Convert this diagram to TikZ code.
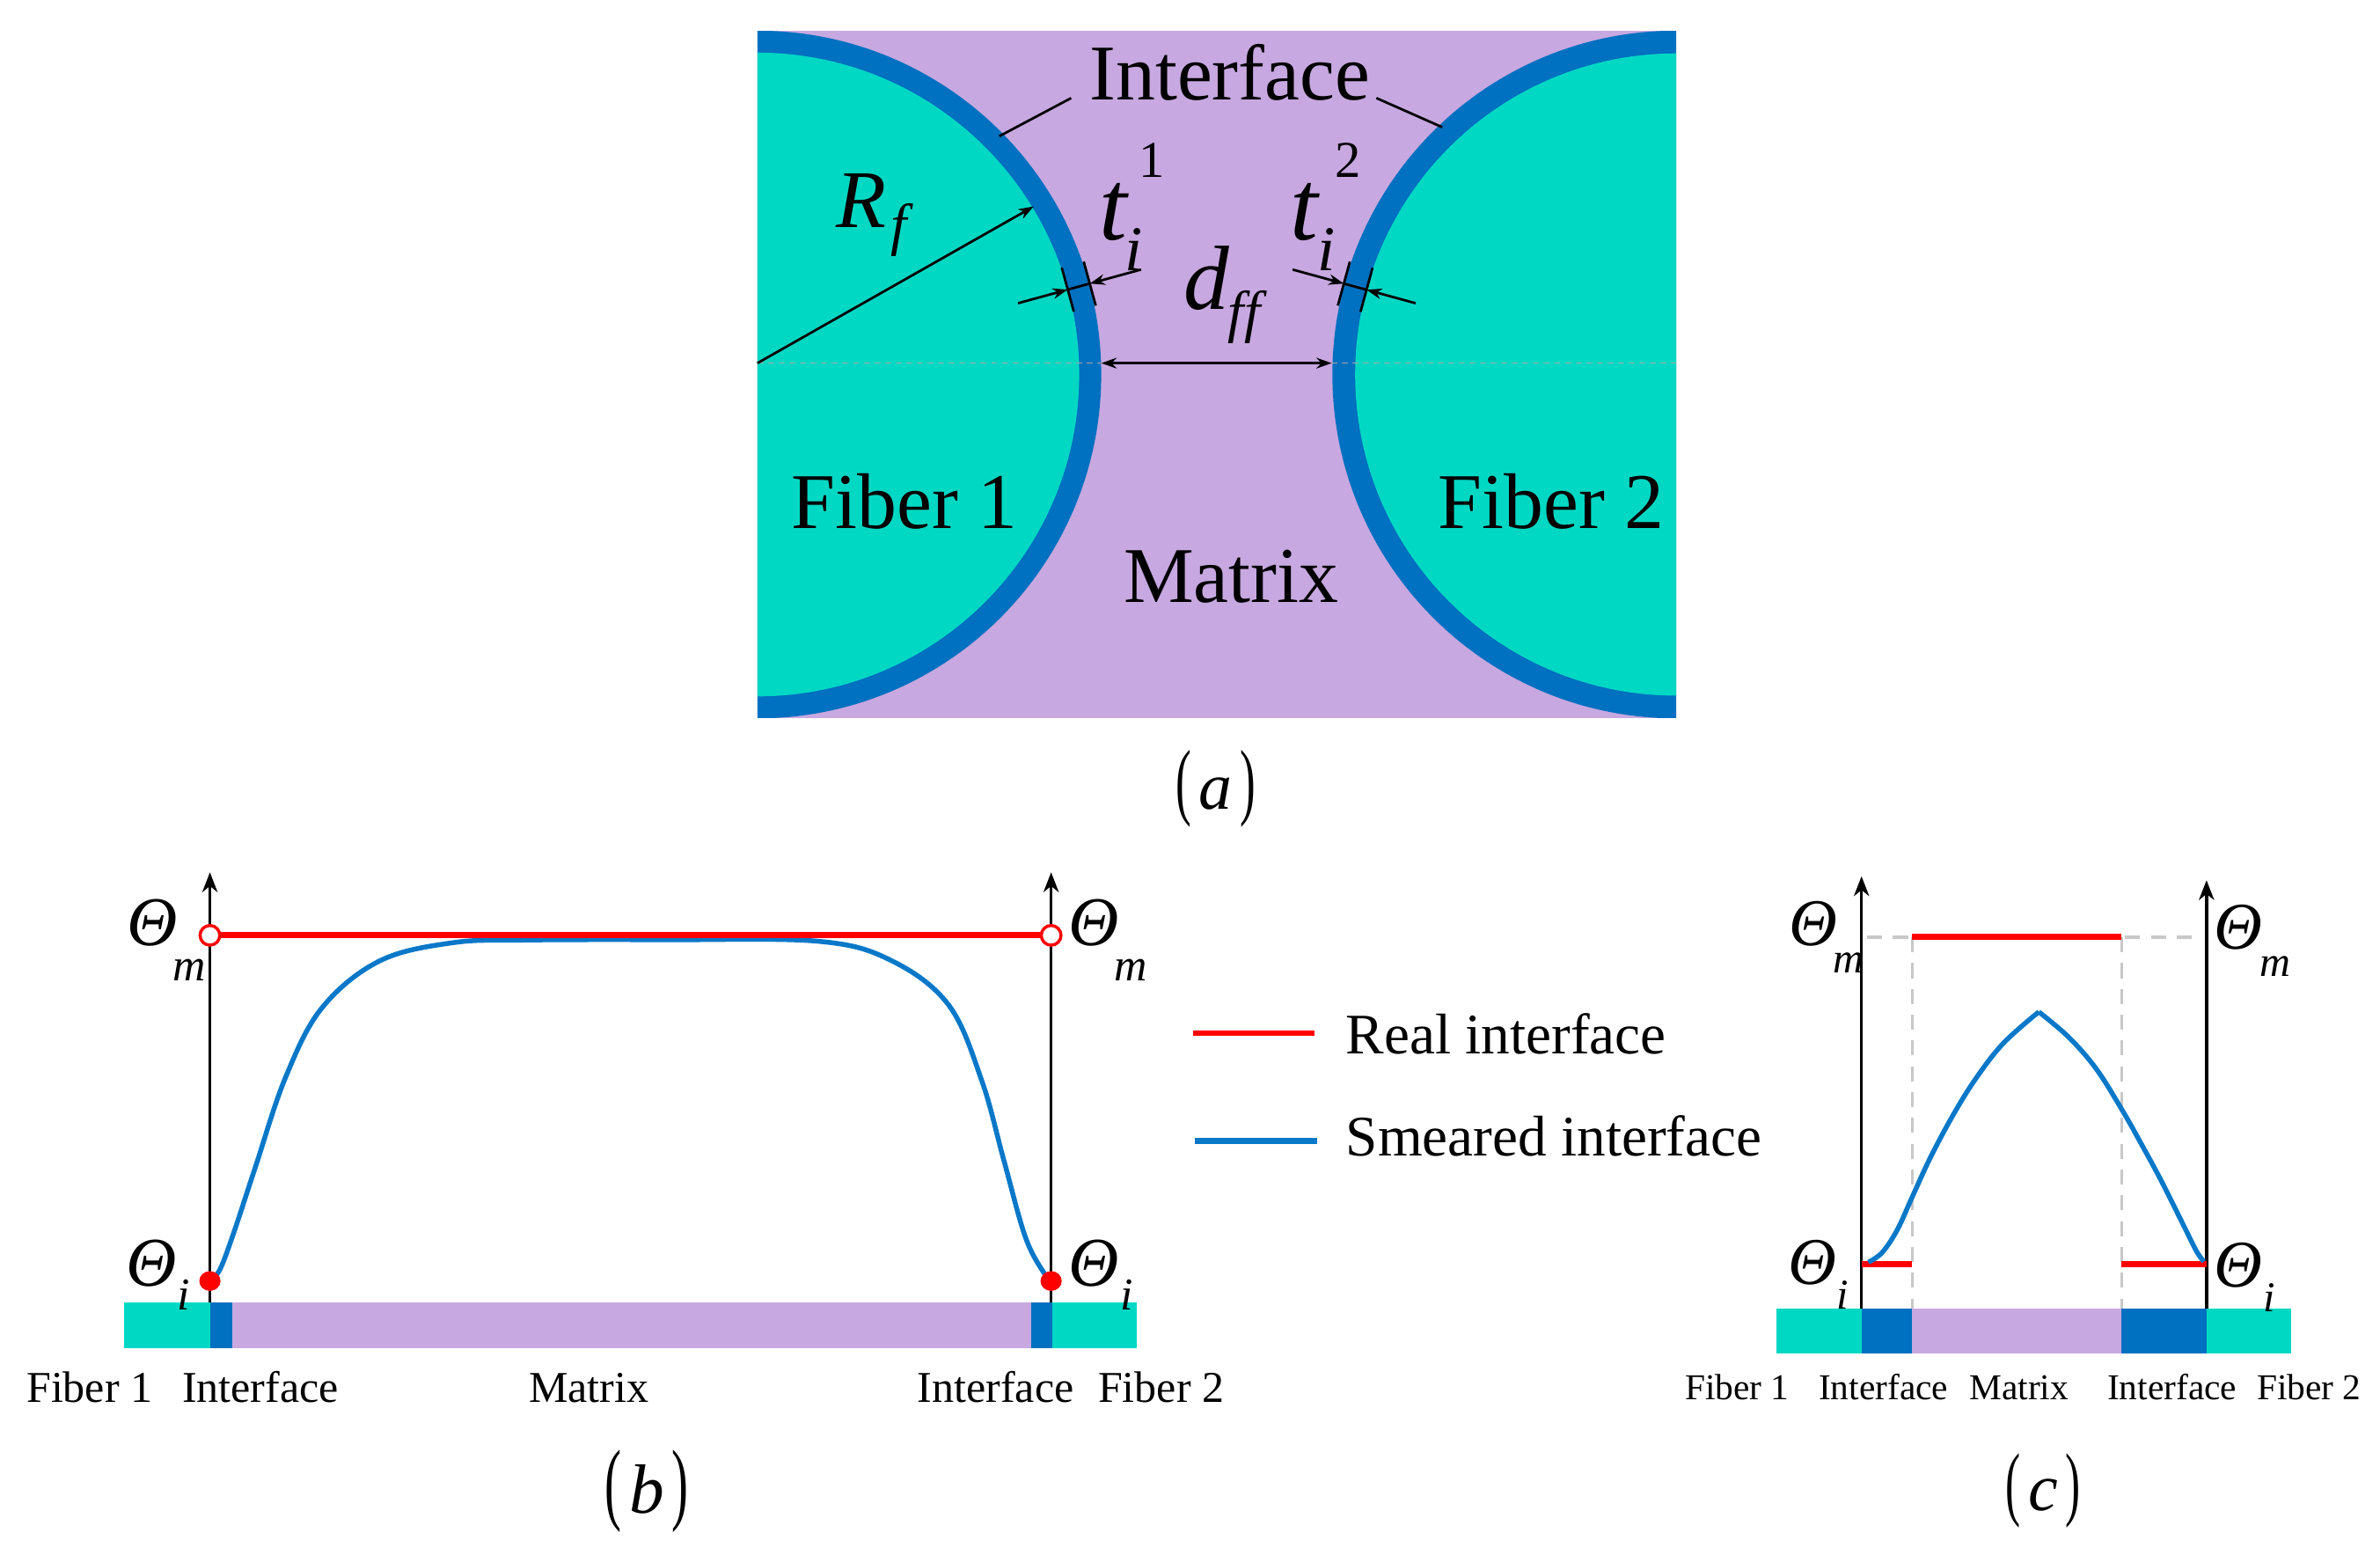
\documentclass[tikz,border=0pt]{standalone}
\usepackage{fontspec}
\setmainfont{Liberation Serif}
\usepackage{graphicx}
\usetikzlibrary{arrows.meta,calc}
\definecolor{fib}{HTML}{00D8C4}
\definecolor{mat}{HTML}{C8A8E0}
\definecolor{ifc}{HTML}{0070C0}
\definecolor{crv}{HTML}{0A78C8}
\definecolor{rd}{HTML}{FF0000}
\definecolor{gd}{HTML}{C8C8C8}
\newcommand\myfs[1]{\fontsize{#1}{#1}\selectfont}
\begin{document}
\begin{tikzpicture}[x=1pt,y=-1pt,
  lbl/.style={inner sep=0pt, outer sep=0pt, anchor=base},
  lblw/.style={inner sep=0pt, outer sep=0pt, anchor=base west},
  dimline/.style={black, line width=1.6},
  dimarrow/.style={black, line width=1.6, -{Stealth[length=10pt,width=7pt]}},
  axisline/.style={black, line width=2, -{Stealth[length=13pt,width=10pt,inset=4pt]}},
  realline/.style={rd, line width=4},
  smearline/.style={crv, line width=3.2},
  gdash/.style={gd, line width=2, dash pattern=on 10pt off 7pt}]
\useasboundingbox (0,0) rectangle (1568,1024);

% ---------------- panel (a) ----------------
\coordinate (c1) at (499,246.7);
\coordinate (c2) at (1104.3,246.7);
\begin{scope}
\clip (499,20.3) rectangle (1104.3,473);
\fill[mat] (499,20.3) rectangle (1104.3,473);
\fill[ifc] (c1) circle (226.5);
\fill[fib] (c1) circle (212);
\fill[ifc] (c2) circle (226.5);
\fill[fib] (c2) circle (211.5);
\draw[gray!70, line width=0.8, dash pattern=on 4pt off 3pt] (499,239.2) -- (1104.3,239.2);
\end{scope}

\node[lbl, font=\myfs{52}] (ifa) at (810.2,66) {Interface};
\node[lbl, font=\myfs{52}] (f1a) at (596,348) {Fiber 1};
\node[lbl, font=\myfs{52}] (f2a) at (1022,348) {Fiber 2};
\node[lbl, font=\myfs{52}] (mxa) at (811,397) {Matrix};

\coordinate (ifl0) at (705.7,64.6);
\coordinate (ifl1) at (658.4,89.7);
\coordinate (ifr0) at (906.8,64.6);
\coordinate (ifr1) at (950.2,83.8);
\draw[dimline] (ifl0) -- (ifl1);
\draw[dimline] (ifr0) -- (ifr1);

% R_f
\coordinate (rf0) at (499,239.2);
\coordinate (rf1) at (681,136);
\draw[dimarrow] (rf0) -- (rf1);
\node[lblw, font=\myfs{54}\itshape] (R) at (551,150) {R};
\node[lblw, font=\myfs{38}\itshape] (Rs) at (587,161) {f};

% thickness 1
\coordinate (p1i) at ($(c1)+(-15.3:212)$);
\coordinate (p1o) at ($(c1)+(-15.3:227)$);
\coordinate (p1a) at ($(c1)+(-15.3:178)$);
\coordinate (p1b) at ($(c1)+(-15.3:262)$);
\draw[dimline] ($(p1i)+(74.7:15)$) -- ($(p1i)+(74.7:-15)$);
\draw[dimline] ($(p1o)+(74.7:15)$) -- ($(p1o)+(74.7:-15)$);
\draw[dimline] (p1i) -- (p1o);
\draw[dimarrow] (p1a) -- (p1i);
\draw[dimarrow] (p1b) -- (p1o);
% thickness 2
\coordinate (p2i) at ($(c2)+(195.3:211.5)$);
\coordinate (p2o) at ($(c2)+(195.3:227)$);
\coordinate (p2a) at ($(c2)+(195.3:178)$);
\coordinate (p2b) at ($(c2)+(195.3:262)$);
\draw[dimline] ($(p2i)+(105.3:15)$) -- ($(p2i)+(105.3:-15)$);
\draw[dimline] ($(p2o)+(105.3:15)$) -- ($(p2o)+(105.3:-15)$);
\draw[dimline] (p2i) -- (p2o);
\draw[dimarrow] (p2a) -- (p2i);
\draw[dimarrow] (p2b) -- (p2o);

\node[lblw, font=\myfs{66}\itshape] (t1) at (724,158) {t};
\node[lblw, font=\myfs{42}\itshape] (t1i) at (741,178) {i};
\node[lbl, font=\myfs{34}] (t1s) at (759,117) {1};
\node[lblw, font=\myfs{66}\itshape] (t2) at (850,158) {t};
\node[lblw, font=\myfs{42}\itshape] (t2i) at (868,178) {i};
\node[lbl, font=\myfs{34}] (t2s) at (888,117) {2};
\node[lblw, font=\myfs{60}\itshape] (dd) at (780,204) {d};
\node[lblw, font=\myfs{38}\itshape] (dff) at (809,218) {f\kern0.5pt f};

\coordinate (dffl) at (725.6,239.2);
\coordinate (dffr) at (877.3,239.2);
\draw[black, line width=1.8, {Stealth[length=10pt,width=7pt]}-{Stealth[length=10pt,width=7pt]}] (dffl) -- (dffr);

\node[lbl] (capa) at (801,533) {\myfs{56}\scalebox{0.55}[1]{(}\hspace{5pt}{\myfs{44}\itshape a}\hspace{5pt}\scalebox{0.55}[1]{)}};

% ---------------- panel (b) ----------------
\fill[fib] (82,858) rectangle (138.3,887.8);
\fill[ifc] (138.3,858) rectangle (153.2,887.8);
\fill[mat] (153.2,858) rectangle (679.5,887.8);
\fill[ifc] (679.5,858) rectangle (693.4,887.8);
\fill[fib] (693.4,858) rectangle (749.2,887.8);

\coordinate (bl0) at (138.3,858);
\coordinate (bl1) at (138.3,574.6);
\coordinate (br0) at (692.5,858);
\coordinate (br1) at (692.5,574.6);
\draw[axisline] (bl0) -- (bl1);
\draw[axisline] (br0) -- (br1);

\draw[smearline] plot[smooth, tension=0.6] coordinates {(139,843) (145,836) (154,812) (168.5,768) (188,710) (212,664) (250,633) (298,621) (346,619.2) (440,619) (539,620) (587,632.6) (625,662) (646.8,711.8) (661.2,763.7) (675.7,815.3) (688.6,839.8) (692,843)};

\coordinate (rm1) at (138.3,616.1);
\coordinate (rm2) at (692.5,616.1);
\draw[realline] (rm1) -- (rm2);
\draw[rd, line width=2, fill=white] (rm1) circle (6.5);
\draw[rd, line width=2, fill=white] (rm2) circle (6.5);
\fill[rd] (138.3,843.8) ellipse (7 and 6.5);
\fill[rd] (692.5,843.8) ellipse (7 and 6.5);

\node[lblw, font=\myfs{46}\itshape] (bTm1) at (84,623) {Θ};
\node[lblw, font=\myfs{30}\itshape] (bTm1s) at (114,646) {m};
\node[lblw, font=\myfs{46}\itshape] (bTm2) at (704,623) {Θ};
\node[lblw, font=\myfs{30}\itshape] (bTm2s) at (734,646) {m};
\node[lblw, font=\myfs{46}\itshape] (bTi1) at (83,847) {Θ};
\node[lblw, font=\myfs{30}\itshape] (bTi1s) at (117,863) {i};
\node[lblw, font=\myfs{46}\itshape] (bTi2) at (704,847) {Θ};
\node[lblw, font=\myfs{30}\itshape] (bTi2s) at (738,863) {i};

\node[lbl, font=\myfs{29}] (bf1) at (59,923.5) {Fiber 1};
\node[lbl, font=\myfs{29}] (bi1) at (171.5,923.5) {Interface};
\node[lbl, font=\myfs{29}] (bmx) at (388,923.5) {Matrix};
\node[lbl, font=\myfs{29}] (bi2) at (656,923.5) {Interface};
\node[lbl, font=\myfs{29}] (bf2) at (765,923.5) {Fiber 2};

\node[lbl] (capb) at (426,997) {\myfs{60}\scalebox{0.55}[1]{(}\hspace{5pt}{\myfs{46}\itshape b}\hspace{5pt}\scalebox{0.55}[1]{)}};

% ---------------- legend ----------------
\coordinate (lr0) at (786,680.6);
\coordinate (lr1) at (866,680.6);
\coordinate (lb0) at (787,751.3);
\coordinate (lb1) at (868,751.3);
\draw[rd, line width=3.5] (lr0) -- (lr1);
\draw[crv, line width=4] (lb0) -- (lb1);
\node[lblw, font=\myfs{37.8}] (lrt) at (886.8,694) {Real interface};
\node[lblw, font=\myfs{37.8}] (lbt) at (886.8,761.3) {Smeared interface};

% ---------------- panel (c) ----------------
\fill[fib] (1170.2,862) rectangle (1226.4,891.7);
\fill[ifc] (1226.4,862) rectangle (1259.8,891.7);
\fill[mat] (1259.8,862) rectangle (1397.8,891.7);
\fill[ifc] (1397.8,862) rectangle (1453.7,891.7);
\fill[fib] (1453.7,862) rectangle (1509.2,891.7);

\coordinate (cl0) at (1226.4,862);
\coordinate (cl1) at (1226.4,577.2);
\coordinate (cr0) at (1453.7,862);
\coordinate (cr1) at (1453.7,579.8);
\coordinate (cd1) at (1259.8,617.3);
\coordinate (cd2) at (1397.8,617.3);
\draw[gdash] (1230,617.3) -- (1450,617.3);
\draw[gdash] (cd1) -- (1259.8,862);
\draw[gdash] (cd2) -- (1397.8,862);
\draw[axisline] (cl0) -- (cl1);
\draw[axisline] (cr0) -- (cr1);

\draw[realline] (cd1) -- (cd2);
\draw[realline] (1226.4,832.9) -- (1259.8,832.9);
\draw[realline] (1397.8,832.9) -- (1453.7,832.9);

\coordinate (peak) at (1343.2,666.5);
\draw[smearline] plot[smooth, tension=0.6] coordinates {(1230.9,831.4) (1240,825) (1250,810) (1260,788) (1272,762) (1287,734) (1302,710) (1320,687) (1343.2,666.5)};
\draw[smearline] plot[smooth, tension=0.6] coordinates {(1343.2,666.5) (1363,683.3) (1381,704) (1398,731) (1411,754) (1424,778) (1438,806) (1447,824) (1452,831)};

\node[lblw, font=\myfs{44}\itshape] (cTm1) at (1179,623) {Θ};
\node[lblw, font=\myfs{28}\itshape] (cTm1s) at (1208,641) {m};
\node[lblw, font=\myfs{44}\itshape] (cTm2) at (1459,625) {Θ};
\node[lblw, font=\myfs{28}\itshape] (cTm2s) at (1489,643) {m};
\node[lblw, font=\myfs{44}\itshape] (cTi1) at (1178,846) {Θ};
\node[lblw, font=\myfs{28}\itshape] (cTi1s) at (1210,862) {i};
\node[lblw, font=\myfs{44}\itshape] (cTi2) at (1459,848) {Θ};
\node[lblw, font=\myfs{28}\itshape] (cTi2s) at (1491,864) {i};

\node[lbl, font=\myfs{24}] (cf1) at (1144.4,921.7) {Fiber 1};
\node[lbl, font=\myfs{24}] (ci1) at (1240.9,921.7) {Interface};
\node[lbl, font=\myfs{24}] (cmx) at (1330.2,921.7) {Matrix};
\node[lbl, font=\myfs{24}] (ci2) at (1431,921.7) {Interface};
\node[lbl, font=\myfs{24}] (cf2) at (1521.2,921.7) {Fiber 2};

\node[lbl] (capc) at (1346,995) {\myfs{54}\scalebox{0.55}[1]{(}\hspace{5pt}{\myfs{44}\itshape c}\hspace{5pt}\scalebox{0.55}[1]{)}};
\end{tikzpicture}
\end{document}
